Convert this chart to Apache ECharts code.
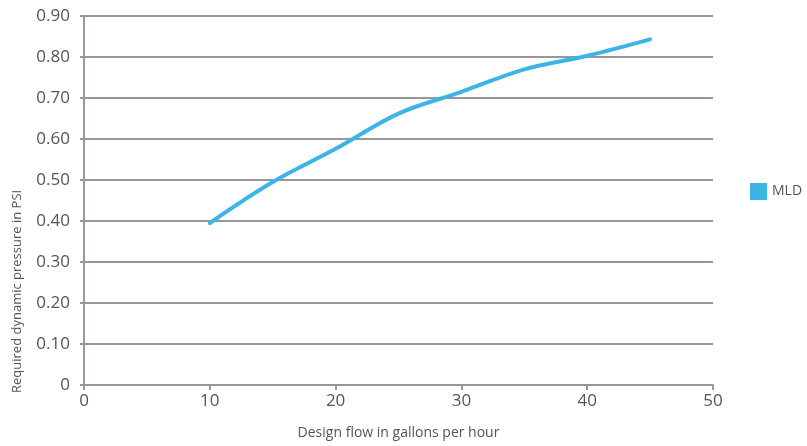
<!DOCTYPE html>
<html>
<head>
<meta charset="utf-8">
<script src="https://cdn.jsdelivr.net/npm/echarts@6/dist/echarts.min.js"></script>
<style>html,body{margin:0;padding:0;background:#fff;}#c{width:807px;height:446px;}</style>
</head>
<body>
<div id="c"></div>
<script>
const seriesName = 'MLD';
const flowGph = [10, 15, 20, 25, 30, 35, 40, 45];
const pressurePsi = [0.395, 0.495, 0.576, 0.662, 0.715, 0.770, 0.803, 0.843];
const xAxisTitle = 'Design flow in gallons per hour';
const yAxisTitle = 'Required dynamic pressure in PSI';

const chart = echarts.init(document.getElementById('c'));
const gray = '#9b9796';
const textColor = '#555555';
const font = 'Open Sans';
chart.setOption({
  animation: false,
  textStyle: { fontFamily: font },
  grid: { left: 84, right: 94, top: 16, bottom: 61, outerBoundsMode: 'none', containLabel: false },
  legend: {
    left: 745, top: 178, orient: 'vertical',
    icon: 'rect', itemWidth: 17, itemHeight: 17, itemGap: 8,
    textStyle: { color: textColor, fontSize: 14, fontFamily: font },
    data: [seriesName]
  },
  graphic: [{
    type: 'text',
    x: 17, y: 393,
    rotation: Math.PI / 2,
    style: {
      text: yAxisTitle, fill: textColor, fontSize: 13, fontFamily: font,
      textAlign: 'left', textVerticalAlign: 'middle'
    }
  }],
  xAxis: {
    type: 'value', min: 0, max: 50, interval: 10,
    name: xAxisTitle, nameLocation: 'middle', nameGap: 41,
    nameTextStyle: { color: textColor, fontSize: 14, fontFamily: font },
    axisLine: { show: true, lineStyle: { color: gray, width: 2 } },
    axisTick: { show: true, length: 5, lineStyle: { color: gray, width: 2 } },
    axisLabel: { color: textColor, fontSize: 17, margin: 8, fontFamily: font },
    splitLine: { show: false }
  },
  yAxis: {
    type: 'value', min: 0, max: 0.9, interval: 0.1,
    axisLine: { show: true, lineStyle: { color: gray, width: 2 } },
    axisTick: { show: true, length: 4, lineStyle: { color: gray, width: 2 } },
    axisLabel: {
      color: textColor, fontSize: 17, margin: 14, fontFamily: font,
      formatter: v => v === 0 ? '0' : v.toFixed(2)
    },
    splitLine: { show: true, lineStyle: { color: gray, width: 2 } }
  },
  series: [{
    name: seriesName, type: 'line', smooth: 0.35,
    data: flowGph.map((x, i) => [x, pressurePsi[i]]),
    showSymbol: false, symbol: 'none',
    itemStyle: { color: '#3cb4e5' },
    lineStyle: { color: '#3cb4e5', width: 4, cap: 'round' }
  }]
});
</script>
</body>
</html>
